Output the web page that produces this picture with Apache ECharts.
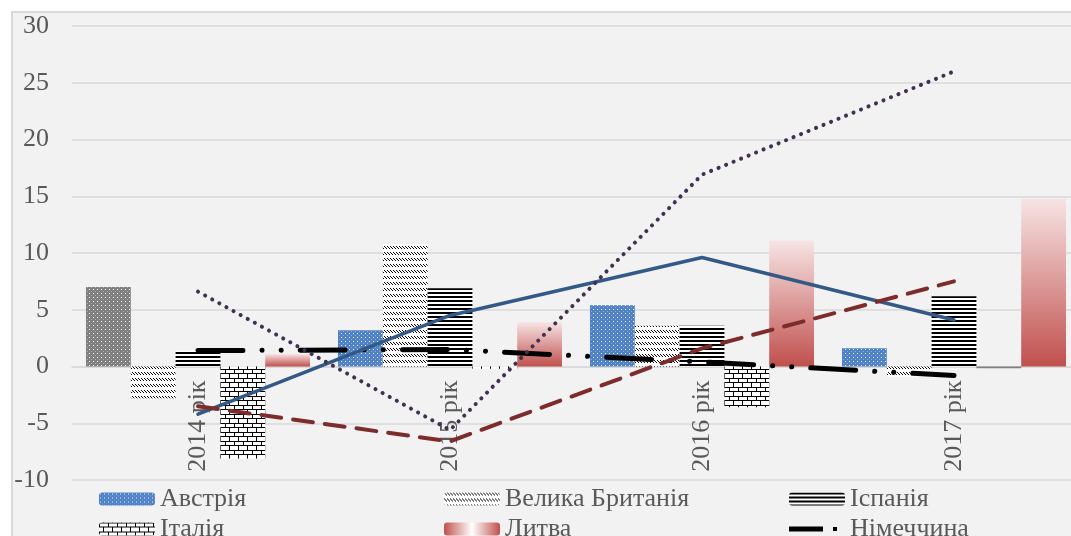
<!DOCTYPE html>
<html lang="uk">
<head>
    <meta charset="UTF-8">
    <title>Chart</title>
    <script src="https://cdn.jsdelivr.net/npm/echarts@6/dist/echarts.min.js"></script>
    <style>
        html, body { margin: 0; padding: 0; background: #fff; }
    </style>
</head>
<body>
<div id="main" style="width: 1071px;height:536px;"></div>
<script type="text/javascript">
    // дані
    var years = ['2014 рік', '2015 рік', '2016 рік', '2017 рік'];
    var yTicks = {min: -10, max: 30, step: 5};
    var austria = [7, 3.2, 5.4, 1.6];
    var britain = [-2.8, 10.8, 3.6, -0.9];
    var spain = [1.4, 6.9, 3.6, 6.2];
    var italy = [-8.1, -0.2, -3.6, -0.15];
    var lithuania = [1.1, 3.9, 11.1, 14.8];
    var germany = [1.4, 1.5, 0.4, -0.8];
    var row7 = [-4.2, 4.5, 9.6, 4.1];
    var row8 = [-3.5, -6.6, 1.6, 7.5];
    var row9 = [6.6, -5.6, 16.9, 26.0];

    var font = 'Liberation Serif';
    var txt = '#595959';
    var gridTop = 26, gridBottom = 56, chartH = 536;

    function pattern(w, h, draw) {
        var c = document.createElement('canvas');
        c.width = w;
        c.height = h;
        var ctx = c.getContext('2d');
        draw(ctx);
        return {image: c, repeat: 'repeat'};
    }
    function dots(bg) {
        return pattern(4, 4, function (ctx) {
            ctx.fillStyle = bg;
            ctx.fillRect(0, 0, 4, 4);
            ctx.fillStyle = 'rgba(255,255,255,0.95)';
            ctx.fillRect(1, 1, 1, 1);
            ctx.fillStyle = 'rgba(255,255,255,0.35)';
            ctx.fillRect(3, 3, 1, 1);
        });
    }
    var blueDots = dots('#4f81c7');
    var grayDots = dots('#7f7f7f');
    var diag = pattern(3, 6, function (ctx) {
        ctx.fillStyle = '#fff';
        ctx.fillRect(0, 0, 3, 6);
        ctx.strokeStyle = '#000';
        ctx.lineWidth = 1;
        ctx.beginPath();
        ctx.moveTo(0, 0);
        ctx.lineTo(3, 3);
        ctx.stroke();
    });
    var stripes = pattern(4, 4, function (ctx) {
        ctx.fillStyle = '#fff';
        ctx.fillRect(0, 0, 4, 4);
        ctx.fillStyle = '#000';
        ctx.fillRect(0, 0, 4, 2);
    });
    var bricks = pattern(9, 9, function (ctx) {
        ctx.fillStyle = '#fff';
        ctx.fillRect(0, 0, 9, 9);
        ctx.fillStyle = '#000';
        ctx.fillRect(0, 0, 9, 1);
        ctx.fillRect(0, 4, 9, 1);
        ctx.fillRect(0, 0, 1, 4);
        ctx.fillRect(4, 4, 1, 5);
    });
    var redGrad = new echarts.graphic.LinearGradient(0, 0, 0, 1, [
        {offset: 0, color: '#f7e4e4'},
        {offset: 1, color: '#c0504d'}
    ]);
    var redGradLegend = new echarts.graphic.LinearGradient(0, 0, 1, 0, [
        {offset: 0, color: '#c0504d'},
        {offset: 0.5, color: '#ffffff'},
        {offset: 1, color: '#c0504d'}
    ]);

    var austriaData = austria.map(function (v, i) {
        return i === 0 ? {value: v, itemStyle: {color: grayDots}} : v;
    });
    var italyData = italy.map(function (v, i) {
        return i === 3 ? {value: v, itemStyle: {color: '#7f7f7f'}} : v;
    });

    // вісь категорій переносимо на рівень нуля
    var plotH = chartH - gridTop - gridBottom;
    var zeroOffset = -plotH * (0 - yTicks.min) / (yTicks.max - yTicks.min);

    function bar(name, data, color) {
        return {name: name, type: 'bar', data: data, barGap: '0%', barCategoryGap: '11.1%',
            itemStyle: {color: color}, z: 2};
    }
    function line(name, data, color, width, type) {
        return {name: name, type: 'line', data: data, symbol: 'none', z: 3,
            lineStyle: {color: color, width: width, type: type, cap: 'round'},
            itemStyle: {color: color}};
    }
    // одна легенда на кожен пункт
    function legendItem(left, top, item, w, h, pad) {
        return {
            left: left, top: top,
            itemWidth: w || 56, itemHeight: h || 13,
            textStyle: {fontFamily: font, fontSize: 26, color: txt, padding: [0, 0, 0, pad || 0]},
            data: [item]
        };
    }

    var myChart = echarts.init(document.getElementById('main'));
    var option = {
        backgroundColor: '#fff',
        animation: false,
        graphic: [{
            type: 'rect', z: -10, left: 11, top: 11,
            shape: {width: 1120, height: 600},
            style: {fill: '#f2f2f2', stroke: '#d9d9d9', lineWidth: 2}
        }],
        legend: [
            legendItem(94, 481, 'Австрія'),
            legendItem(439, 481, 'Велика Британія'),
            legendItem(784, 481, 'Іспанія'),
            legendItem(94, 511, 'Італія'),
            legendItem(439, 511, {name: 'Литва', itemStyle: {color: redGradLegend}}),
            legendItem(784, 511, {name: 'Німеччина', icon: 'path://M0,0h34v5h-34z M44,0.5h4v4h-4z'}, 48, 5, 8)
        ],
        grid: {left: 72, right: -9, top: gridTop, bottom: gridBottom, outerBoundsMode: 'none', containLabel: false},
        xAxis: {
            type: 'category',
            data: years,
            offset: zeroOffset,
            axisLine: {onZero: false, lineStyle: {color: '#d9d9d9', width: 1.5}},
            axisTick: {show: false},
            axisLabel: {rotate: 90, interval: 0, margin: 14, fontFamily: font, fontSize: 26, color: txt}
        },
        yAxis: {
            type: 'value',
            min: yTicks.min, max: yTicks.max, interval: yTicks.step,
            axisLine: {show: false},
            axisTick: {show: false},
            splitLine: {lineStyle: {color: '#d9d9d9', width: 1.5}},
            axisLabel: {margin: 23, fontFamily: font, fontSize: 26, color: txt}
        },
        series: [
            bar('Австрія', austriaData, blueDots),
            bar('Велика Британія', britain, diag),
            bar('Іспанія', spain, stripes),
            bar('Італія', italyData, bricks),
            bar('Литва', lithuania, redGrad),
            line('Німеччина', germany, '#000', 5, [45, 19, 0.1, 19, 0.1, 19]),
            line('Ряд 7', row7, '#335a86', 3.5, 'solid'),
            line('Ряд 8', row8, '#7d2b2b', 4, [20, 12]),
            line('Ряд 9', row9, '#403152', 4, [0.1, 8])
        ]
    };
    myChart.setOption(option);
</script>
</body>
</html>
